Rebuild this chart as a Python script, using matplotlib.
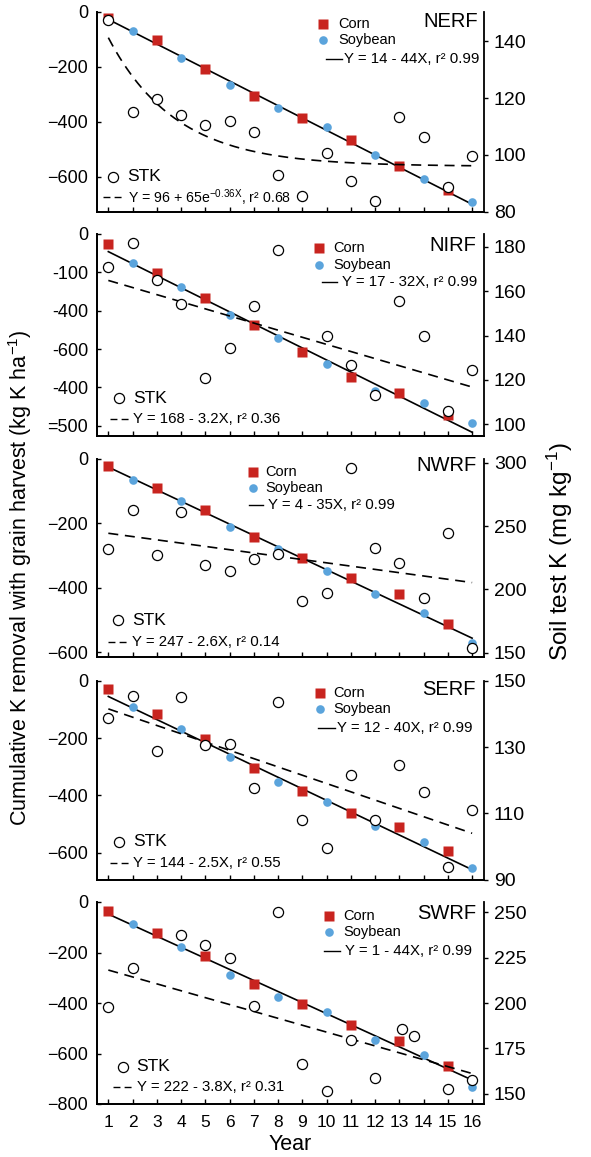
import numpy as np
import matplotlib.pyplot as plt
from matplotlib.lines import Line2D

plt.rcParams['font.family'] = ['Liberation Sans', 'DejaVu Sans']
plt.rcParams['mathtext.default'] = 'regular'

W, H = 591, 1157
RED = '#c8241f'
BLUE = '#5ba4dc'

years = list(range(1, 17))
corn_years = [1, 3, 5, 7, 9, 11, 13, 15]
soy_years = [2, 4, 6, 8, 10, 12, 14, 16]

# cumulative K removal (kg K/ha)
nerf_corn = [-24, -103, -208, -305, -386, -466, -560, -647]
nerf_soy = [-70, -167, -265, -348, -419, -521, -609, -691]
nirf_corn = [-26, -103, -167, -238, -307, -372, -415, -473]
nirf_soy = [-76, -139, -210, -272, -340, -409, -441, -494]
nwrf_corn = [-23, -91, -160, -243, -308, -370, -419, -512]
nwrf_soy = [-65, -131, -213, -281, -348, -419, -480, -571]
serf_corn = [-29, -116, -202, -305, -386, -462, -511, -593]
serf_soy = [-91, -169, -265, -352, -423, -508, -563, -654]
swrf_corn = [-35, -121, -213, -325, -404, -486, -550, -648]
swrf_soy = [-88, -180, -290, -378, -437, -547, -606, -734]

# fitted K removal line, value at year 1 and year 16
nerf_kfit = [-28, -699]
nirf_kfit = [-46, -517]
nwrf_kfit = [-26, -557]
serf_kfit = [-55, -659]
swrf_kfit = [-48, -705]

# soil test K (mg/kg)
nerf_stk_x = years
nerf_stk = [147.4, 115.2, 119.8, 114, 110.4, 112, 108, 93.1, 85.4, 100.7, 90.8, 83.9, 113.3, 106.2, 88.7, 99.8]
nirf_stk_x = [1, 2, 3, 4, 5, 6, 7, 8, 10, 11, 12, 13, 14, 15, 16]
nirf_stk = [171, 181.5, 165, 154.2, 121, 134.3, 153.5, 178.4, 139.8, 126.8, 113, 155.5, 139.8, 106.2, 124.5]
nwrf_stk_x = years
nwrf_stk = [231.7, 262.6, 227.5, 261, 219.3, 214.6, 223.8, 228, 191.1, 197.2, 296, 232.8, 220.7, 193.5, 244.4, 153.7]
serf_stk_x = years
serf_stk = [138.8, 145.3, 128.7, 145, 130.5, 131, 117.7, 143.7, 108, 99.5, 121.5, 108, 124.5, 116.3, 93.7, 111]
swrf_stk_x = [1, 2, 4, 5, 6, 7, 8, 9, 10, 11, 12, 13.1, 13.6, 15, 16]
swrf_stk = [198.1, 219.2, 237.5, 232.2, 224.7, 198.3, 250.4, 166.5, 151.8, 179.4, 158.8, 185.6, 181.7, 152.7, 157.7]

# STK fit coefficients as printed: exp (a, b, c) -> a + b*e^(c x); linear (a, b) -> a + b x
nerf_stkfit = (96, 65, -0.36)
nirf_stkfit = (168, -3.2)
nwrf_stkfit = (247, -2.6)
serf_stkfit = (144, -2.5)
swrf_stkfit = (222, -3.8)

nirf_ticklabels = ['0', '-100', '-400', '-600', '-400', '=500']


def fx(x):
    return x / W


def fy(y):
    return 1 - y / H


panels = [
    dict(name='NERF', corn=nerf_corn, soy=nerf_soy, kfit=nerf_kfit, sx=nerf_stk_x, sy=nerf_stk,
         sfit=nerf_stkfit, keq='Y = 14 - 44X, r² 0.99', seq='Y = 96 + 65e$^{-0.36X}$, r² 0.68',
         top=11.7, bot=211.7, ylim=(-726, 0), yticks=[0, -200, -400, -600], ylabels=None,
         rlim=(80.2, 150.5), rticks=[80, 100, 120, 140],
         leg=(323, 24, 338), keqpos=(326, 342, 59.3, 343.5), lab=(478, 21.7),
         stk=(113.3, 176.7, 126.7), seqpos=(103, 125, 197.3, 128.3)),
    dict(name='NIRF', corn=nirf_corn, soy=nirf_soy, kfit=nirf_kfit, sx=nirf_stk_x, sy=nirf_stk,
         sfit=nirf_stkfit, keq='Y = 17 - 32X, r² 0.99', seq='Y = 168 - 3.2X, r² 0.36',
         top=234, bot=435.7, ylim=(-526, 0), yticks=[0, -100, -200, -300, -400, -500],
         ylabels=nirf_ticklabels, rlim=(94.9, 185.7), rticks=[100, 120, 140, 160, 180],
         leg=(319, 248.3, 333.3), keqpos=(321.7, 336.7, 281.7, 341.7), lab=(476.7, 245),
         stk=(119.3, 398.3, 132.7), seqpos=(110, 131.7, 419.3, 133.3)),
    dict(name='NWRF', corn=nwrf_corn, soy=nwrf_soy, kfit=nwrf_kfit, sx=nwrf_stk_x, sy=nwrf_stk,
         sfit=nwrf_stkfit, keq='Y = 4 - 35X, r² 0.99', seq='Y = 247 - 2.6X, r² 0.14',
         top=458.7, bot=657, ylim=(-615.5, 0), yticks=[0, -200, -400, -600], ylabels=None,
         rlim=(146.5, 303.4), rticks=[150, 200, 250, 300],
         leg=(252.7, 472, 265), keqpos=(249.3, 263.3, 505.3, 268.3), lab=(476.7, 465.3),
         stk=(118.3, 620.3, 131.7), seqpos=(108.3, 130, 642, 131.7)),
    dict(name='SERF', corn=serf_corn, soy=serf_soy, kfit=serf_kfit, sx=serf_stk_x, sy=serf_stk,
         sfit=serf_stkfit, keq='Y = 12 - 40X, r² 0.99', seq='Y = 144 - 2.5X, r² 0.55',
         top=680.7, bot=879.7, ylim=(-694, 0), yticks=[0, -200, -400, -600], ylabels=None,
         rlim=(90, 149.7), rticks=[90, 110, 130, 150],
         leg=(320, 693, 333.3), keqpos=(318.3, 335, 728, 337.3), lab=(476, 689.7),
         stk=(119.3, 842, 132.7), seqpos=(110, 131.7, 863, 133.3)),
    dict(name='SWRF', corn=swrf_corn, soy=swrf_soy, kfit=swrf_kfit, sx=swrf_stk_x, sy=swrf_stk,
         sfit=swrf_stkfit, keq='Y = 1 - 44X, r² 0.99', seq='Y = 222 - 3.8X, r² 0.31',
         top=902, bot=1104, ylim=(-800, 0), yticks=[0, -200, -400, -600, -800], ylabels=None,
         rlim=(144.4, 255.7), rticks=[150, 175, 200, 225, 250],
         leg=(329.3, 915.7, 343.3), keqpos=(324, 340, 950.7, 345), lab=(476, 913.3),
         stk=(123.3, 1066.7, 136), seqpos=(113.3, 135, 1087.3, 137.3)),
]

fig = plt.figure(figsize=(W / 100, H / 100), dpi=100)

for i, p in enumerate(panels):
    ax = fig.add_axes([fx(96.7), fy(p['bot']), (484 - 96.7) / W, (p['bot'] - p['top']) / H])
    ax2 = ax.twinx()
    ax.set_xlim(0.52, 16.49)
    ax.set_ylim(*p['ylim'])
    ax2.set_ylim(*p['rlim'])

    # K removal
    ax.plot([1, 16], p['kfit'], color='black', lw=1.2, zorder=2)
    ax.plot(corn_years, p['corn'], 's', color=RED, ms=7, mec='none', zorder=3)
    ax.plot(soy_years, p['soy'], 'o', color=BLUE, ms=6.2, mec='none', zorder=3)

    # soil test K
    if len(p['sfit']) == 3:
        xs = np.linspace(1, 16, 200)
        a, b, c = p['sfit']
        ax2.plot(xs, a + b * np.exp(c * xs), color='black', lw=1.2, dashes=(6, 4))
    else:
        a, b = p['sfit']
        ax2.plot([1, 16], [a + b * 1, a + b * 16], color='black', lw=1.2, dashes=(6, 4))
    ax2.plot(p['sx'], p['sy'], 'o', mfc='white', mec='black', mew=0.9, ms=7.3, zorder=4)

    for a_ in (ax, ax2):
        a_.spines['top'].set_visible(False)
        for s in ('left', 'right', 'bottom'):
            a_.spines[s].set_linewidth(1.3)
    ax.spines['right'].set_visible(False)

    ax.set_xticks(years)
    ax.tick_params(axis='x', direction='in', length=3.5, width=1, labelsize=12.5, pad=8,
                   labelbottom=(i == len(panels) - 1))
    ax.set_yticks(p['yticks'])
    if p['ylabels'] is not None:
        ax.set_yticklabels(p['ylabels'])
    ax.tick_params(axis='y', direction='in', length=3, width=1, labelsize=13, pad=6)
    ax2.set_yticks(p['rticks'])
    ax2.tick_params(axis='y', direction='out', length=3, width=1, labelsize=14, pad=4)

    # legend-like annotations
    lx, ly, tx = p['leg']
    fig.add_artist(Line2D([fx(lx)], [fy(ly)], marker='s', color=RED, ms=7, mec='none',
                          transform=fig.transFigure))
    fig.add_artist(Line2D([fx(lx)], [fy(ly + 16.3)], marker='o', color=BLUE, ms=6.2, mec='none',
                          transform=fig.transFigure))
    fig.text(fx(tx), fy(ly), 'Corn', fontsize=10.5, va='center', ha='left')
    fig.text(fx(tx), fy(ly + 16.3), 'Soybean', fontsize=10.5, va='center', ha='left')
    x1, x2, yy, etx = p['keqpos']
    fig.add_artist(Line2D([fx(x1), fx(x2)], [fy(yy), fy(yy)], color='black', lw=1,
                          transform=fig.transFigure))
    fig.text(fx(etx), fy(yy), p['keq'], fontsize=10.8, va='center', ha='left')
    fig.text(fx(p['lab'][0]), fy(p['lab'][1]), p['name'], fontsize=14.5, va='center', ha='right')

    cx, cy, ctx = p['stk']
    fig.add_artist(Line2D([fx(cx)], [fy(cy)], marker='o', mfc='white', mec='black', mew=0.9,
                          ms=7.3, transform=fig.transFigure))
    fig.text(fx(ctx), fy(cy), 'STK', fontsize=12.5, va='center', ha='left')
    x1, x2, yy, etx = p['seqpos']
    fig.add_artist(Line2D([fx(x1), fx(x2)], [fy(yy), fy(yy)], color='black', lw=1,
                          dashes=(5, 3), transform=fig.transFigure))
    seq_size = 10.2 if len(p['sfit']) == 3 else 10.8
    fig.text(fx(etx), fy(yy), p['seq'], fontsize=seq_size, va='center', ha='left')

fig.text(fx(290), fy(1145), 'Year', fontsize=15.5, ha='center', va='center')
fig.text(fx(20), fy(578), 'Cumulative K removal with grain harvest (kg K ha$^{-1}$)',
         fontsize=15.5, rotation=90, ha='center', va='center')
fig.text(fx(560), fy(552), 'Soil test K (mg kg$^{-1}$)',
         fontsize=17.5, rotation=90, ha='center', va='center')

fig.savefig('out.png', dpi=100)
